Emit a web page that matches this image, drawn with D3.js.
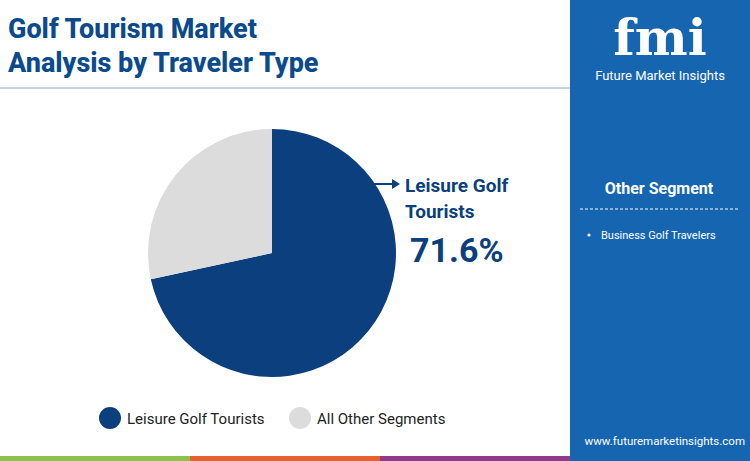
<!DOCTYPE html>
<html><head><meta charset="utf-8">
<script src="https://cdn.jsdelivr.net/npm/d3@7"></script>
<style>body{margin:0;font-family:Roboto,"Noto Sans",sans-serif;}</style>
</head><body><div id="chart"></div>
<script>
const segments = ["Leisure Golf Tourists", "All Other Segments"];
const shares = [71.6, 28.4];
const otherSegments = ["Business Golf Travelers"];
const colors = ["#0b3f7e", "#dcdcdc"];

const W = 750, H = 461;
const svg = d3.select("#chart").append("svg").attr("width", W).attr("height", H);
svg.append("rect").attr("width", W).attr("height", H).attr("fill", "#fff");

// title
svg.append("text").attr("x", 8).attr("y", 38).attr("fill", "#0b4a8c")
  .style("font-size", "27px").style("font-weight", 800).text("Golf Tourism Market");
svg.append("text").attr("x", 8).attr("y", 72).attr("fill", "#0b4a8c")
  .style("font-size", "27px").style("font-weight", 800).text("Analysis by Traveler Type");
svg.append("line").attr("x1", 0).attr("x2", 570).attr("y1", 88).attr("y2", 88)
  .attr("stroke", "#9aa6b5").attr("stroke-width", 1);

// right panel
svg.append("rect").attr("x", 570).attr("y", 0).attr("width", 180).attr("height", H).attr("fill", "#1565b0");
svg.append("text").attr("x", 660).attr("y", 55).attr("text-anchor", "middle").attr("fill", "#fff")
  .style("font-size", "50px").style("font-weight", 900).style("font-family", "DejaVu Serif").text("fmi");
svg.append("text").attr("x", 660).attr("y", 80).attr("text-anchor", "middle").attr("fill", "#fff")
  .style("font-size", "13px").text("Future Market Insights");
svg.append("text").attr("x", 659).attr("y", 194).attr("text-anchor", "middle").attr("fill", "#fff")
  .style("font-size", "16px").style("font-weight", 700).text("Other Segment");
svg.append("line").attr("x1", 580).attr("x2", 740).attr("y1", 209).attr("y2", 209)
  .attr("stroke", "#fff").attr("stroke-dasharray", "3,2").attr("stroke-width", 1);
otherSegments.forEach((s, i) => {
  svg.append("circle").attr("cx", 589).attr("cy", 235 + i * 20).attr("r", 1.6).attr("fill", "#fff");
  svg.append("text").attr("x", 601).attr("y", 239 + i * 20).attr("fill", "#fff")
    .style("font-size", "11px").text(s);
});
svg.append("text").attr("x", 745).attr("y", 445).attr("text-anchor", "end").attr("fill", "#fff")
  .style("font-size", "11.5px").text("www.futuremarketinsights.com");

// bottom bars
const barX = d3.scaleBand().domain(["g", "o", "p"]).range([0, 570]);
const barC = { g: "#8bc34a", o: "#e8612c", p: "#8e3a8f" };
barX.domain().forEach(k => svg.append("rect").attr("x", barX(k)).attr("y", 456)
  .attr("width", barX.bandwidth()).attr("height", 5).attr("fill", barC[k]));

// pie
const cx = 272, cy = 253, r = 124;
const pie = d3.pie().sort(null).value(d => d)(shares);
const arc = d3.arc().innerRadius(0).outerRadius(r);
svg.append("g").attr("transform", `translate(${cx},${cy})`)
  .selectAll("path").data(pie).join("path")
  .attr("d", arc).attr("fill", (d, i) => colors[i]);

// callout
svg.append("line").attr("x1", 374).attr("x2", 392).attr("y1", 184).attr("y2", 184)
  .attr("stroke", "#0b3f7e").attr("stroke-width", 2);
svg.append("path").attr("d", "M392,179 L400,184 L392,189 Z").attr("fill", "#0b3f7e");
svg.append("text").attr("x", 405).attr("y", 192).attr("fill", "#0b3f7e")
  .style("font-size", "19px").style("font-weight", 700).text("Leisure Golf");
svg.append("text").attr("x", 405).attr("y", 218).attr("fill", "#0b3f7e")
  .style("font-size", "19px").style("font-weight", 700).text("Tourists");
svg.append("text").attr("x", 410).attr("y", 262).attr("fill", "#0b3f7e")
  .style("font-size", "34px").style("font-weight", 700).text(shares[0] + "%");

// legend
const legX = [110, 300];
segments.forEach((s, i) => {
  svg.append("circle").attr("cx", legX[i]).attr("cy", 418).attr("r", 11).attr("fill", colors[i]);
  svg.append("text").attr("x", legX[i] + 17).attr("y", 424).attr("fill", "#222")
    .style("font-size", "15px").text(s);
});
</script></body></html>
